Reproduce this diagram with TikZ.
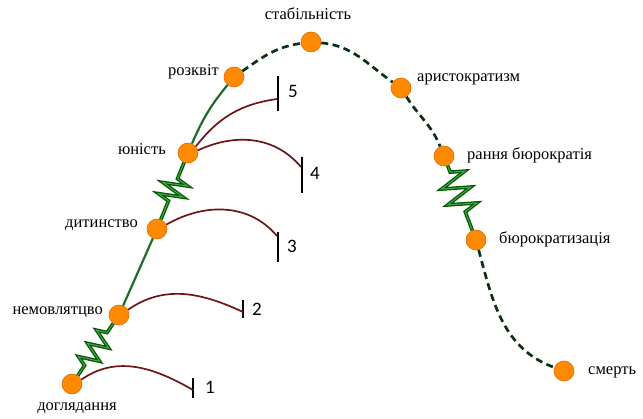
\documentclass[tikz,border=0pt]{standalone}
\usepackage{fontspec}
\setmainfont{Liberation Serif}
\setsansfont{Carlito}
\usetikzlibrary{decorations.pathmorphing}
\definecolor{orfill}{HTML}{FF8A00}
\definecolor{ordraw}{HTML}{E06A00}
\definecolor{lgreen}{HTML}{1E6B2A}
\definecolor{dgreen}{HTML}{083212}
\definecolor{brownred}{HTML}{6E1515}
\tikzset{
  stage/.style={circle, fill=orfill, draw=ordraw, line width=0.6pt, minimum size=20pt, inner sep=0pt},
  lbl/.style={font=\fontsize{16.5}{18}\selectfont, inner sep=1pt},
  numlbl/.style={font=\fontsize{19}{21}\selectfont\sffamily, inner sep=1pt},
  solidline/.style={draw=lgreen, line width=2.2pt},
  dashline/.style={draw=dgreen, line width=2.7pt, dash pattern=on 7pt off 4.5pt},
  springline/.style={draw=green!35!black, double=green!50!black!70!white, double distance=1.0pt, line width=1.3pt,
     line join=miter, decorate},
  branch/.style={draw=brownred, line width=1.7pt},
  barline/.style={draw=black, line width=2.8pt}
}
\begin{document}
\begin{tikzpicture}[x=1pt,y=1pt]
\useasboundingbox (0,0) rectangle (643,418);
% stages
\node[stage] (a) at (72,34) {};
\node[stage] (b) at (119,103) {};
\node[stage] (c) at (157,189) {};
\node[stage] (d) at (188,265) {};
\node[stage] (e) at (234,341) {};
\node[stage] (f) at (311,376) {};
\node[stage] (g) at (401,330) {};
\node[stage] (h) at (444,262) {};
\node[stage] (i) at (476,178) {};
\node[stage] (j) at (564,47) {};
% labels
\node[lbl] (la) at (77,10) {доглядання};
\node[lbl, anchor=east] (lb) at (104,106) {немовлятцво};
\node[lbl, anchor=east] (lc) at (139,193) {дитинство};
\node[lbl, anchor=east] (ld) at (167,269) {юність};
\node[lbl, anchor=east] (le) at (220,346) {розквіт};
\node[lbl] (lf) at (308,404) {стабільність};
\node[lbl, anchor=west] (lg) at (416,339) {аристократизм};
\node[lbl, anchor=west] (lh) at (466,263) {рання бюрократія};
\node[lbl, anchor=west] (li) at (498,179) {бюрократизація};
\node[lbl, anchor=west] (lj) at (587,46) {смерть};
% main path
\draw[springline, decoration={zigzag, amplitude=10pt, segment length=16pt, pre length=12pt, post length=10pt}] (a) -- (b);
\draw[solidline] (b) -- (c);
\draw[springline, decoration={zigzag, amplitude=12pt, segment length=12pt, pre length=20pt, post length=13pt}] (c) -- (d);
\draw[solidline] (d) to[bend left=8] (e);
\draw[dashline] (e) to[out=35,in=188] (f);
\draw[dashline] (f) to[out=-5,in=145] (g);
\draw[dashline] (g) to[out=-58,in=112] (h);
\draw[springline, decoration={zigzag, amplitude=14pt, segment length=17pt, pre length=7pt, post length=17pt}] (h) -- (i);
\draw[dashline] (i) to[out=-75,in=160] (j);
% bars
\coordinate (t1) at (193,40); \coordinate (u1) at (193,20); \coordinate (e1) at (193,28);
\coordinate (t2) at (243,118); \coordinate (u2) at (243,100); \coordinate (e2) at (243,106);
\coordinate (t3) at (278,186); \coordinate (u3) at (278,156); \coordinate (e3) at (277,182);
\coordinate (t4) at (302,261); \coordinate (u4) at (302,225); \coordinate (e4) at (301,251);
\coordinate (t5) at (278,342); \coordinate (u5) at (278,307); \coordinate (e5) at (277,319);
\foreach \k in {1,...,5} {\draw[barline] (t\k) -- (u\k);}
\node[numlbl] (n1) at (210,31) {1};
\node[numlbl] (n2) at (257,109) {2};
\node[numlbl] (n3) at (292,172) {3};
\node[numlbl] (n4) at (315,245) {4};
\node[numlbl] (n5) at (293,327) {5};
% branches
\draw[branch] (a.25) to[out=35,in=150] (e1);
\draw[branch] (b.30) to[out=35,in=155] (e2);
\draw[branch] (c.25) to[out=30,in=130] (e3);
\draw[branch] (d.15) to[out=25,in=130] (e4);
\draw[branch] (d.40) to[out=52,in=188] (e5);
\end{tikzpicture}
\end{document}
